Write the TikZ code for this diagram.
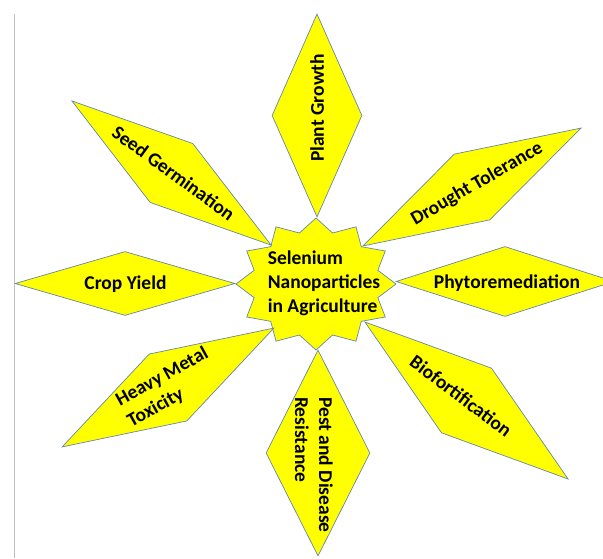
\documentclass[tikz,border=0pt]{standalone}
\usepackage{fontspec}
\setmainfont{Carlito}
\usetikzlibrary{shapes.geometric}

\definecolor{petalfill}{RGB}{255,255,0}
\definecolor{petaledge}{RGB}{100,135,170}

\begin{document}
\begin{tikzpicture}[
		x=1pt, y=-1pt,
		align=center,
		colorit/.style={
				draw=petaledge,
				fill=#1,
				line width=0.7pt
			},
		colorit/.default=petalfill,
		petal/.style={diamond, colorit, inner sep=0pt, shape aspect=2.5},
		caption/.style={font=\bfseries\fontsize{19.5}{24}\selectfont, inner sep=0pt, align=left}
	]
	\useasboundingbox (0,0) rectangle (603,558);
	\draw[gray!50, line width=0.6pt] (14,14) -- (14,558);

	% central star
	\draw[colorit] (396,284) \foreach \k in {1,...,23} {
			-- ({316+80*cos(15*\k)*(1-0.2*mod(\k,2))}, {284-66*sin(15*\k)*(1-0.2*mod(\k,2))})
		} -- cycle;
	\node[caption] (hub) at (324,283) {Selenium\\Nanoparticles\\in Agriculture};

	% petals
	\node[petal, rotate=90, minimum width=203pt, minimum height=90pt] (growth) at (317,115.5) {};
	\node[petal, rotate=-35.9, minimum width=246pt, minimum height=73pt] (seed) at (171.5,173) {};
	\node[petal, rotate=28.4, minimum width=248pt, minimum height=75pt] (drought) at (472,187) {};
	\node[petal, minimum width=220pt, minimum height=64pt] (crop) at (125,283.5) {};
	\node[petal, minimum width=218pt, minimum height=70pt] (phyto) at (505,281.5) {};
	\node[petal, rotate=29.3, minimum width=243pt, minimum height=77pt] (heavy) at (168,387.5) {};
	\node[petal, rotate=-90, minimum width=206pt, minimum height=104pt] (pest) at (318,453) {};
	\node[petal, rotate=-37.7, minimum width=257pt, minimum height=82pt] (bio) at (466.5,400.5) {};

	% labels
	\node[caption, rotate=90] (growth text) at (317,108) {Plant Growth};
	\node[caption, rotate=-36] (seed text) at (173.5,173) {Seed Germination};
	\node[caption, rotate=30] (drought text) at (477,184) {Drought Tolerance};
	\node[caption] (crop text) at (125.5,284) {Crop Yield};
	\node[caption] (phyto text) at (507,283) {Phytoremediation};
	\node[caption, rotate=29] (heavy text) at (168,387.5) {Heavy Metal\\Toxicity};
	\node[caption, rotate=-90] (pest text) at (314,465) {Pest and Disease\\Resistance};
	\node[caption, rotate=-37] (bio text) at (461,396) {Biofortification};
\end{tikzpicture}
\end{document}
